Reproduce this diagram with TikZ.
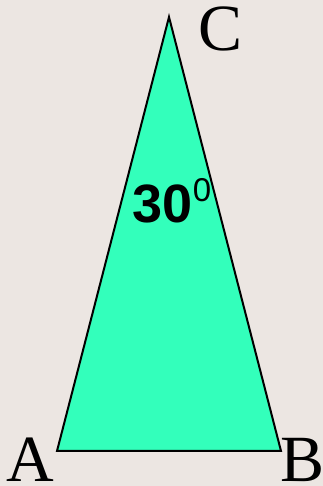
\documentclass[tikz,border=0pt]{standalone}
\usepackage{fontspec}
\setmainfont{Liberation Serif}
\newfontfamily\labsans{Liberation Sans}
\definecolor{bgc}{HTML}{ECE6E2}
\definecolor{trifill}{HTML}{33FFBB}
\begin{document}
\begin{tikzpicture}[x=1pt,y=1pt,
  vlabel/.style={inner sep=0pt, anchor=base, font=\fontsize{66}{66}\selectfont},
  anglabel/.style={inner sep=0pt, anchor=base west}]
\fill[bgc] (0,0) rectangle (323,486);
\useasboundingbox (0,0) rectangle (323,486);
\coordinate (A) at (57,35);
\coordinate (B) at (281,35);
\coordinate (C) at (169,469);
\filldraw[fill=trifill, draw=black, line width=2pt, line join=miter] (A) -- (B) -- (C) -- cycle;
\node[vlabel] (la) at (30,5) {A};
\node[vlabel] (lb) at (302.5,5) {B};
\node[vlabel] (lc) at (221,435) {C};
\node[anglabel] (ang) at (132.5,263) {\labsans\fontsize{54}{54}\selectfont\bfseries 30\raisebox{21pt}{\fontsize{33}{33}\selectfont\mdseries 0}};
\end{tikzpicture}
\end{document}
